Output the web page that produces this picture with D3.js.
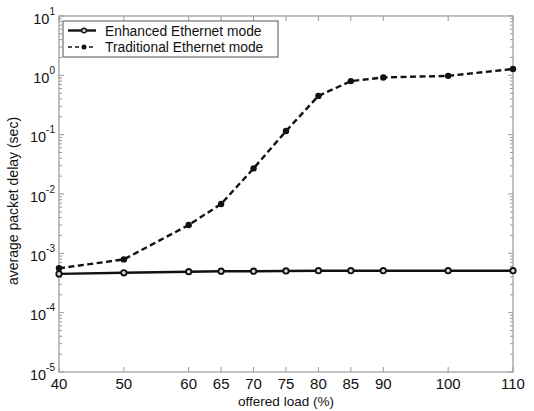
<!DOCTYPE html>
<html><head><meta charset="utf-8">
<script src="https://cdn.jsdelivr.net/npm/d3@7"></script>
<style>body{margin:0;background:#fff}svg{display:block}text{font-family:"Liberation Sans",Arial,sans-serif}</style>
</head><body><svg id="c" width="534" height="411"></svg>
<script>
const loads = [40, 50, 60, 65, 70, 75, 80, 85, 90, 100, 110];
const enhanced = [4.5e-4, 4.7e-4, 4.9e-4, 5.0e-4, 5.0e-4, 5.05e-4, 5.1e-4, 5.1e-4, 5.1e-4, 5.1e-4, 5.1e-4];
const traditional = [5.6e-4, 7.9e-4, 3.0e-3, 6.8e-3, 2.7e-2, 0.115, 0.45, 0.8, 0.92, 0.98, 1.28];
const yExps = [1, 0, -1, -2, -3, -4, -5];
const seriesNames = ["Enhanced Ethernet mode", "Traditional Ethernet mode"];

const svg = d3.select("#c");
const L = 59, R = 513, T = 16, B = 372;
const x = d3.scaleLinear().domain([40, 110]).range([L, R]);
const y = d3.scaleLog().domain([1e-5, 10]).range([B, T]);
const gray = "#999";

const minor = [];
for (let e = -5; e < 1; e++) for (let m = 2; m <= 9; m++) minor.push(m * Math.pow(10, e));

const g = svg.append("g");
g.selectAll(".ymaj").data(yExps).join("line")
  .attr("x1", L).attr("x2", L + 5).attr("y1", d => y(Math.pow(10, d))).attr("y2", d => y(Math.pow(10, d)))
  .attr("stroke", gray);
g.selectAll(".ymajr").data(yExps).join("line")
  .attr("x1", R).attr("x2", R - 5).attr("y1", d => y(Math.pow(10, d))).attr("y2", d => y(Math.pow(10, d)))
  .attr("stroke", gray);
g.selectAll(".ymin").data(minor).join("line")
  .attr("x1", L).attr("x2", L + 3).attr("y1", d => y(d)).attr("y2", d => y(d)).attr("stroke", gray);
g.selectAll(".yminr").data(minor).join("line")
  .attr("x1", R).attr("x2", R - 3).attr("y1", d => y(d)).attr("y2", d => y(d)).attr("stroke", gray);
g.selectAll(".xb").data(loads).join("line")
  .attr("x1", d => x(d)).attr("x2", d => x(d)).attr("y1", B).attr("y2", B - 5).attr("stroke", gray);
g.selectAll(".xt").data(loads).join("line")
  .attr("x1", d => x(d)).attr("x2", d => x(d)).attr("y1", T).attr("y2", T + 5).attr("stroke", gray);
svg.append("rect").attr("x", L).attr("y", T).attr("width", R - L).attr("height", B - T)
  .attr("fill", "none").attr("stroke", gray).attr("stroke-width", 1.2);

svg.selectAll(".xl").data(loads).join("text")
  .attr("x", d => x(d)).attr("y", 389).attr("text-anchor", "middle")
  .attr("font-size", 15).attr("fill", "#111").text(d => d);
const yl = svg.selectAll(".yl").data(yExps).join("text")
  .attr("x", 55).attr("y", d => y(Math.pow(10, d)) + 7.5).attr("text-anchor", "end")
  .attr("font-size", 14.5).attr("fill", "#111");
yl.append("tspan").text("10");
yl.append("tspan").attr("dy", -9).attr("font-size", 10).text(d => d);

svg.append("text").attr("x", 286).attr("y", 406).attr("text-anchor", "middle")
  .attr("font-size", 13.5).attr("fill", "#111").text("offered load (%)");
svg.append("text").attr("transform", "translate(18,201) rotate(-90)").attr("text-anchor", "middle")
  .attr("font-size", 14).attr("fill", "#111").text("average packet delay (sec)");

const line = d3.line().x((d, i) => x(loads[i])).y(d => y(d));
svg.append("path").datum(traditional).attr("d", line).attr("fill", "none")
  .attr("stroke", "#111").attr("stroke-width", 2.4).attr("stroke-dasharray", "6,3.5");
svg.append("path").datum(enhanced).attr("d", line).attr("fill", "none")
  .attr("stroke", "#111").attr("stroke-width", 2.4);
svg.selectAll(".pt").data(traditional).join("circle")
  .attr("cx", (d, i) => x(loads[i])).attr("cy", d => y(d)).attr("r", 3.2).attr("fill", "#111");
svg.selectAll(".pe").data(enhanced).join("circle")
  .attr("cx", (d, i) => x(loads[i])).attr("cy", d => y(d)).attr("r", 2.7)
  .attr("fill", "#ddd").attr("stroke", "#111").attr("stroke-width", 1.8);

const lg = svg.append("g");
lg.append("rect").attr("x", 63).attr("y", 21).attr("width", 215).attr("height", 36)
  .attr("fill", "#fff").attr("stroke", "#555").attr("stroke-width", 1);
seriesNames.forEach((n, i) => {
  const yy = 30.5 + i * 16.5;
  lg.append("line").attr("x1", 68).attr("x2", 96).attr("y1", yy).attr("y2", yy)
    .attr("stroke", "#111").attr("stroke-width", i === 0 ? 2.4 : 1.3)
    .attr("stroke-dasharray", i === 0 ? null : "4,3");
  if (i === 0) lg.append("circle").attr("cx", 84).attr("cy", yy).attr("r", 2.3)
    .attr("fill", "#ddd").attr("stroke", "#111").attr("stroke-width", 1.4);
  else lg.append("circle").attr("cx", 84).attr("cy", yy).attr("r", 2.5).attr("fill", "#111");
  lg.append("text").attr("x", 105).attr("y", yy + 5).attr("font-size", 13.8).attr("fill", "#111").text(n);
});
</script></body></html>
